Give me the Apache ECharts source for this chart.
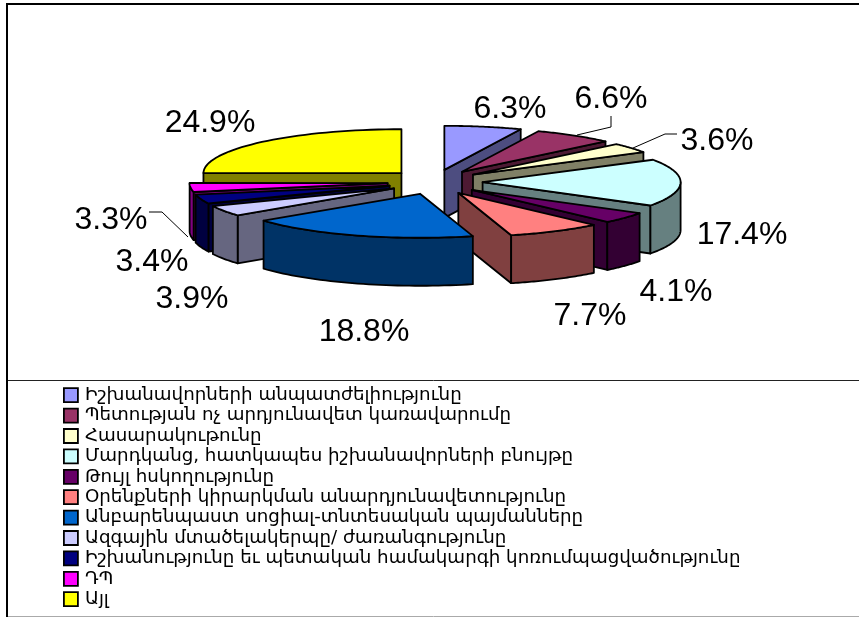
<!DOCTYPE html>
<html lang="en">
<head>
    <meta charset="UTF-8">
    <title>Chart</title>
    <script src="https://cdn.jsdelivr.net/npm/echarts@6/dist/echarts.min.js"></script>
    <style>
        html, body { margin: 0; padding: 0; background: #fff; }
    </style>
</head>
<body>
    <div id="main" style="width:859px; height:617px;"></div>
    <script>
        const categories = [
            'Իշխանավորների անպատժելիությունը',
            'Պետության ոչ արդյունավետ կառավարումը',
            'Հասարակութունը',
            'Մարդկանց, հատկապես իշխանավորների բնույթը',
            'Թույլ հսկողությունը',
            'Օրենքների կիրարկման անարդյունավետությունը',
            'Անբարենպաստ սոցիալ-տնտեսական պայմանները',
            'Ազգային մտածելակերպը/ ժառանգությունը',
            'Իշխանությունը եւ պետական համակարգի կոռումպացվածությունը',
            'ԴՊ',
            'Այլ'
        ];
        const values = [6.3, 6.6, 3.6, 17.4, 4.1, 7.7, 18.8, 3.9, 3.4, 3.3, 24.9];
        const topColors = ['#9999FF', '#993366', '#FFFFCC', '#CCFFFF', '#660066', '#FF8080', '#0066CC', '#CCCCFF', '#000080', '#FF00FF', '#FFFF00'];
        const sideColors = ['#4D4D80', '#4D1A33', '#808066', '#668080', '#330033', '#804040', '#003366', '#666680', '#000040', '#800080', '#808000'];

        // label centres, by hand from the picture
        const labelPos = [[510, 109], [611, 99], [717, 141], [742, 235], [676, 292], [590, 316], [364, 332], [192, 299], [152, 262], [111, 220], [210, 123]];

        // pie projection
        const cx = 435, cy = 182, rx = 198, ry = 44, depth = 48;
        const explodeX = 47.6, explodeY = 12.4;

        const total = values.reduce((a, b) => a + b, 0);
        const starts = [];
        values.reduce((acc, v, i) => { starts[i] = acc; return acc + v; }, 0);

        function sliceChildren(i, value) {
            const a0 = starts[i] / total * Math.PI * 2;
            const a1 = (starts[i] + value) / total * Math.PI * 2;
            const mid = (a0 + a1) / 2;
            const ox = cx + explodeX * Math.sin(mid);
            const oy = cy - explodeY * Math.cos(mid);
            const at = a => [ox + rx * Math.sin(a), oy - ry * Math.cos(a)];
            const down = p => [p[0], p[1] + depth];
            const line = { stroke: '#000', lineWidth: 1.8, lineJoin: 'round' };
            const side = { fill: sideColors[i], ...line };
            const kids = [];
            const apex = [ox, oy];

            // cut faces facing the viewer
            if (Math.sin(a0) < 0) {
                const p = at(a0);
                kids.push({ type: 'polygon', shape: { points: [apex, p, down(p), down(apex)] }, style: side });
            }
            if (Math.sin(a1) > 0) {
                const p = at(a1);
                kids.push({ type: 'polygon', shape: { points: [apex, p, down(p), down(apex)] }, style: side });
            }
            // outer wall, front half only
            const w0 = Math.max(a0, Math.PI / 2), w1 = Math.min(a1, Math.PI * 1.5);
            if (w1 > w0) {
                const arc = [];
                for (let k = 0; k <= 40; k++) arc.push(at(w0 + (w1 - w0) * k / 40));
                const pts = arc.concat(arc.slice().reverse().map(down));
                kids.push({ type: 'polygon', shape: { points: pts }, style: side });
            }
            // top
            const topPts = [apex];
            for (let k = 0; k <= 40; k++) topPts.push(at(a0 + (a1 - a0) * k / 40));
            kids.push({ type: 'polygon', shape: { points: topPts }, style: { fill: topColors[i], ...line } });
            return kids;
        }

        // back slices first
        function depthOf(i) {
            const mid = (starts[i] + values[i] / 2) / total * Math.PI * 2;
            return -Math.cos(mid);
        }

        const series = categories.map((name, i) => ({
            type: 'custom',
            name: name,
            coordinateSystem: 'none',
            z: 10 + depthOf(i),
            silent: true,
            animation: false,
            itemStyle: { color: topColors[i] },
            data: [[values[i]]],
            renderItem: (params, api) => ({ type: 'group', children: sliceChildren(i, api.value(0)) })
        }));

        // percent labels go through a series of their own, above the slices
        series.push({
            type: 'custom',
            coordinateSystem: 'none',
            z: 20,
            silent: true,
            animation: false,
            data: values.map(v => [v]),
            renderItem: (params, api) => ({
                type: 'text',
                x: labelPos[params.dataIndex][0],
                y: labelPos[params.dataIndex][1],
                style: {
                    text: api.value(0).toFixed(1) + '%',
                    fill: '#000',
                    font: '32px "Liberation Sans"',
                    align: 'center',
                    verticalAlign: 'middle'
                }
            })
        });

        const chart = echarts.init(document.getElementById('main'), null, { renderer: 'canvas' });
        chart.setOption({
            backgroundColor: '#fff',
            animation: false,
            legend: {
                orient: 'vertical',
                left: 58,
                top: 380,
                height: 236,
                padding: 5,
                itemWidth: 14,
                itemHeight: 14,
                itemGap: 0,
                selectedMode: false,
                icon: 'rect',
                textStyle: { fontFamily: 'DejaVu Sans', fontSize: 18.25, color: '#000', lineHeight: 20.4, height: 20.4, padding: [0, 0, 0, 2] },
                data: categories.map((name, i) => ({
                    name: name,
                    itemStyle: { color: topColors[i], borderColor: '#000', borderWidth: 1.8 }
                }))
            },
            graphic: [
                { type: 'line', silent: true, shape: { x1: 6, y1: 4, x2: 859, y2: 4 }, style: { stroke: '#000', lineWidth: 2 } },
                { type: 'line', silent: true, shape: { x1: 7, y1: 4, x2: 7, y2: 617 }, style: { stroke: '#000', lineWidth: 2 } },
                { type: 'line', silent: true, shape: { x1: 8, y1: 380.5, x2: 859, y2: 380.5 }, style: { stroke: '#222', lineWidth: 1 } },
                { type: 'line', silent: true, shape: { x1: 8, y1: 616.5, x2: 859, y2: 616.5 }, style: { stroke: '#aaa', lineWidth: 1 } },
                { type: 'polyline', silent: true, z: 15, shape: { points: [[577, 135], [611, 127], [611, 116]] }, style: { stroke: '#000', lineWidth: 1, fill: 'none' } },
                { type: 'polyline', silent: true, z: 15, shape: { points: [[633, 148], [665, 134], [677, 134]] }, style: { stroke: '#000', lineWidth: 1, fill: 'none' } },
                { type: 'polyline', silent: true, z: 15, shape: { points: [[149, 212], [162, 212], [188, 237]] }, style: { stroke: '#000', lineWidth: 1, fill: 'none' } }
            ],
            series: series
        });
    </script>
</body>
</html>
